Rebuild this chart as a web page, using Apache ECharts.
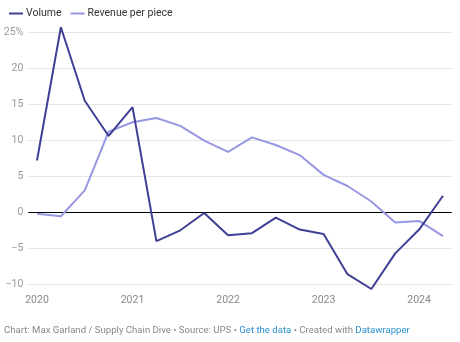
<!DOCTYPE html>
<html>
<head>
<meta charset="utf-8">
<script src="https://cdn.jsdelivr.net/npm/echarts@6/dist/echarts.min.js"></script>
<style>
html,body{margin:0;padding:0;background:#fff;}
#c{width:460px;height:342px;}
</style>
</head>
<body>
<div id="c"></div>
<script>
const quarters = [2020,2020.25,2020.5,2020.75,2021,2021.25,2021.5,2021.75,2022,2022.25,2022.5,2022.75,2023,2023.25,2023.5,2023.75,2024,2024.25];
const volume = [7.2,25.7,15.5,10.6,14.6,-4.0,-2.5,-0.1,-3.2,-2.9,-0.75,-2.4,-3.0,-8.6,-10.65,-5.7,-2.4,2.3];
const revenuePerPiece = [-0.2,-0.55,3.05,11.2,12.5,13.1,12.0,9.95,8.4,10.4,9.35,7.95,5.2,3.65,1.5,-1.4,-1.2,-3.3];
const yearTicks = [2020,2021,2022,2023,2024];
const yTicks = [-10,-5,0,5,10,15,20,25];
const seriesNames = ['Volume','Revenue per piece'];

const chart = echarts.init(document.getElementById('c'), null, {renderer:'canvas'});
const font = 'Roboto, "Noto Sans", sans-serif';
const pad = 0.091;
chart.setOption({
  animation:false,
  textStyle:{fontFamily:font},
  legend:{
    left:4, top:3, itemGap:9, itemWidth:14, itemHeight:2,
    icon:'rect',
    textStyle:{fontFamily:font,fontSize:10.5,color:'#333',padding:[0,0,0,-2]},
    data:seriesNames
  },
  grid:{left:28.3, right:8.3, top:32.3, bottom:57.7, containLabel:false},
  xAxis:{
    type:'value',
    min:quarters[0]-pad, max:quarters[quarters.length-1]+pad,
    axisLine:{show:false}, axisTick:{show:false}, splitLine:{show:false},
    axisLabel:{customValues:yearTicks, color:'#888', fontSize:10.5, fontFamily:font, margin:11,
      formatter:v=>String(Math.round(v))}
  },
  yAxis:{
    type:'value', min:yTicks[0], max:yTicks[yTicks.length-1], interval:5,
    axisLine:{show:false}, axisTick:{show:false},
    splitLine:{lineStyle:{color:'#e6e6e6',width:1}},
    axisLabel:{color:'#999', fontSize:10.5, fontFamily:font, margin:5,
      formatter:v=> v===25 ? '25%' : (v<0 ? '\u2212'+Math.abs(v) : String(v))}
  },
  series:[
    {
      name:seriesNames[1], type:'line', clip:false, symbol:'none',
      data:quarters.map((q,i)=>[q,revenuePerPiece[i]]),
      itemStyle:{color:'#9797e3'}, lineStyle:{color:'#9797e3',width:2},
      z:2
    },
    {
      name:seriesNames[0], type:'line', clip:false, symbol:'none',
      data:quarters.map((q,i)=>[q,volume[i]]),
      itemStyle:{color:'#3f3f96'}, lineStyle:{color:'#3f3f96',width:2},
      z:3,
      markLine:{silent:true, symbol:'none', label:{show:false},
        lineStyle:{color:'#000',width:1,type:'solid'},
        data:[{yAxis:0}], z:1}
    }
  ],
  graphic:[{
    type:'text', left:4, top:326,
    style:{
      text:'{g|Chart: Max Garland / Supply Chain Dive • Source: UPS • }{b|Get the data}{g| • Created with }{b|Datawrapper}',
      rich:{
        g:{fill:'#888',fontSize:9.6,fontFamily:font},
        b:{fill:'#2a90cf',fontSize:9.6,fontFamily:font}
      }
    }
  }]
});
</script>
</body>
</html>
